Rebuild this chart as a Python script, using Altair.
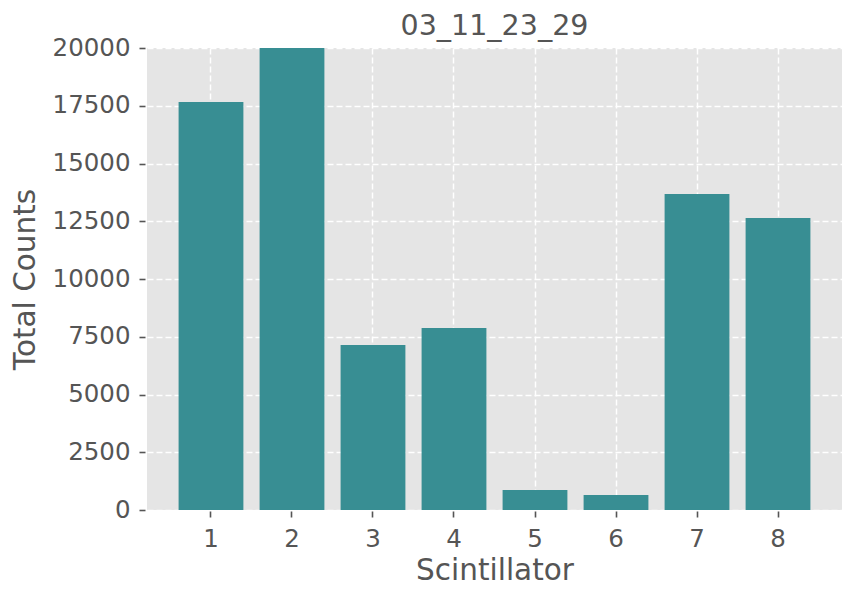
import altair as alt
import pandas as pd

scintillators = ["1", "2", "3", "4", "5", "6", "7", "8"]
counts = [17660, 20000, 7140, 7880, 866, 650, 13680, 12640]
y_ticks = [0, 2500, 5000, 7500, 10000, 12500, 15000, 17500, 20000]

df = pd.DataFrame({"Scintillator": scintillators, "Total Counts": counts})

FONT = "DejaVu Sans"
GREY = "#555555"

common_axis = dict(
    labelFontSize=24.5, titleFontSize=29.5, tickSize=6, tickColor=GREY,
    tickWidth=1.6, labelColor=GREY, titleColor=GREY, domain=False,
    grid=True, gridColor="white", gridDash=[6, 3], gridWidth=1.5,
    labelFont=FONT, titleFont=FONT, titleFontWeight="normal",
)

chart = alt.Chart(df).mark_bar(color="#388E93", clip=True).encode(
    x=alt.X("Scintillator:N", sort=scintillators,
            scale=alt.Scale(paddingInner=0.2, paddingOuter=0.39),
            axis=alt.Axis(title="Scintillator", labelAngle=0, labelPadding=10,
                          titlePadding=6, offset=1, **common_axis)),
    y=alt.Y("Total Counts:Q",
            scale=alt.Scale(domain=[0, 20000], nice=False),
            axis=alt.Axis(title="Total Counts", values=y_ticks, format="d",
                          labelPadding=9, titlePadding=12, offset=2, **common_axis)),
).properties(
    width=695, height=462,
    title=alt.TitleParams("03_11_23_29", fontSize=28.5, font=FONT, color=GREY,
                          fontWeight="normal", offset=10, dy=15, anchor="middle"),
    autosize=alt.AutoSizeParams(type="none"),
    padding={"left": 139, "top": 40, "right": 8, "bottom": 91},
    background="white",
).configure_view(
    fill="#E5E5E5", stroke=None
)

chart.save("out.html", embed_options={"renderer": "svg", "actions": False})
